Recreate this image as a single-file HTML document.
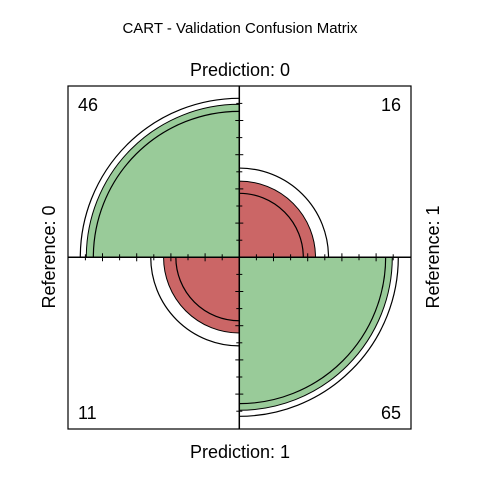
<!DOCTYPE html>
<html><head><meta charset="utf-8"><style>
html,body{margin:0;padding:0;background:#fff;}
svg text{font-family:"Liberation Sans",Arial,sans-serif;fill:#000;}
</style></head><body>
<svg id="chart" width="480" height="480" viewBox="0 0 480 480">
<text x="240" y="33" font-size="15" text-anchor="middle">CART - Validation Confusion Matrix</text>
<text x="240" y="76" font-size="18" text-anchor="middle">Prediction: 0</text>
<text x="240" y="458" font-size="18" text-anchor="middle">Prediction: 1</text>
<text transform="translate(55,257) rotate(-90)" font-size="18" text-anchor="middle">Reference: 0</text>
<text transform="translate(439,257) rotate(-90)" font-size="18" text-anchor="middle">Reference: 1</text>
<g id="plot"></g>
</svg>
<script>
const cellLabels = ["46","16","11","65"];
const counts = [46, 16, 11, 65];
const stdProp = [1.0, 0.248, 0.245, 1.0];   // standardized (margins) values
const ciLow = [0.91, 0.175, 0.172, 0.915];
const ciHigh = [1.08, 0.34, 0.335, 1.08];
const colors = ["#99cb99","#cb6666","#cb6666","#99cb99"];

const cx = 239.3, cy = 257.3, R = 153;
const rad = v => R * Math.sqrt(v);
// quadrant angle ranges: TL, TR, BL, BR
const quads = [[180,270],[270,360],[90,180],[0,90]];
const NS = "http://www.w3.org/2000/svg";
const g = document.getElementById("plot");
function arcPath(r, a0, a1, closed){
  const p = a => [cx + r*Math.cos(a*Math.PI/180), cy + r*Math.sin(a*Math.PI/180)];
  const s = p(a0), e = p(a1);
  let d = "M"+s[0]+","+s[1]+" A"+r+","+r+" 0 0 1 "+e[0]+","+e[1];
  if (closed) d = "M"+cx+","+cy+" L"+s[0]+","+s[1]+" A"+r+","+r+" 0 0 1 "+e[0]+","+e[1]+" Z";
  return d;
}
const box = document.createElementNS(NS,"rect");
box.setAttribute("x",68);box.setAttribute("y",86);box.setAttribute("width",343);box.setAttribute("height",343);
box.setAttribute("fill","none");box.setAttribute("stroke","#000");box.setAttribute("stroke-width","1.2");


g.appendChild(box);
for (let i=0;i<4;i++){
  const [a0,a1] = quads[i];
  const f = document.createElementNS(NS,"path");
  f.setAttribute("d", arcPath(rad(stdProp[i]), a0, a1, true));
  f.setAttribute("fill", colors[i]); f.setAttribute("stroke","#000"); f.setAttribute("stroke-width","1");
  
  
  g.appendChild(f);
  [ciLow[i], ciHigh[i]].forEach((v,k)=>{
    const c = document.createElementNS(NS,"path");
    c.setAttribute("d", arcPath(rad(v), a0, a1, false));
    c.setAttribute("fill","none"); c.setAttribute("stroke","#000"); c.setAttribute("stroke-width","1.2");
    
    
    g.appendChild(c);
  });
}
// axes
[[68,cy,411,cy],[cx,86,cx,429]].forEach((l,k)=>{
  const ln = document.createElementNS(NS,"line");
  ln.setAttribute("x1",l[0]);ln.setAttribute("y1",l[1]);ln.setAttribute("x2",l[2]);ln.setAttribute("y2",l[3]);
  ln.setAttribute("stroke","#000");ln.setAttribute("stroke-width","1.5");
  
  
  g.appendChild(ln);
});
// ticks
const step = 17.1;
for (let k=1;k<=9;k++){
  const L = k%2===0 ? 4 : 3;
  [[cx+k*step,cy,0],[cx-k*step,cy,0],[cx,cy+k*step,1],[cx,cy-k*step,1]].forEach(t=>{
    const ln = document.createElementNS(NS,"line");
    if (t[2]===0){ln.setAttribute("x1",t[0]);ln.setAttribute("x2",t[0]);ln.setAttribute("y1",t[1]-L);ln.setAttribute("y2",t[1]+L);}
    else {ln.setAttribute("y1",t[1]);ln.setAttribute("y2",t[1]);ln.setAttribute("x1",t[0]-L);ln.setAttribute("x2",t[0]+L);}
    ln.setAttribute("stroke","#000");ln.setAttribute("stroke-width","1");
    
    
    g.appendChild(ln);
  });
}
// count labels
const pos = [[78,111,"start"],[401,111,"end"],[78,419,"start"],[401,419,"end"]];
for (let i=0;i<4;i++){
  const t = document.createElementNS(NS,"text");
  t.setAttribute("x",pos[i][0]);t.setAttribute("y",pos[i][1]);t.setAttribute("text-anchor",pos[i][2]);
  t.setAttribute("font-size","18");
  t.textContent = cellLabels[i];
  
  
  g.appendChild(t);
}
</script>
</body></html>
